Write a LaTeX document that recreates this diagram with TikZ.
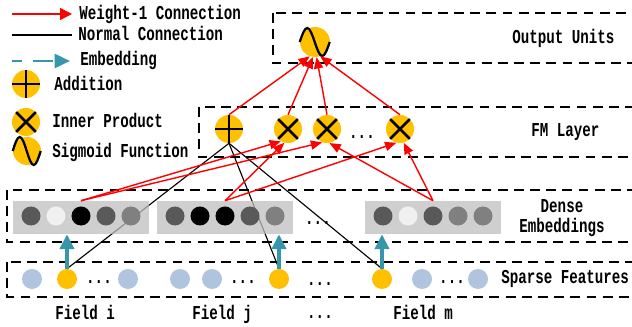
\documentclass[tikz,border=0pt]{standalone}
\usepackage{fontspec}
\setmainfont{Liberation Mono}[FakeStretch=0.72]
\usepackage{tikz}
\usetikzlibrary{arrows.meta}
\definecolor{fmyel}{HTML}{FFC000}
\definecolor{spblue}{HTML}{B0C4DE}
\definecolor{embteal}{HTML}{3796AA}
\definecolor{embgray}{HTML}{BFBFBF}
\definecolor{gdark}{HTML}{595959}
\definecolor{gmid}{HTML}{808080}
\definecolor{glight}{HTML}{F0F0F0}

\begin{document}
\begin{tikzpicture}[x=0.025cm,y=-0.025cm,
	font=\bfseries\fontsize{14}{15}\selectfont,
	lab/.style={inner sep=0pt},
	layer/.style={line width=1pt,dash pattern=on 7pt off 4.5pt},
	unit/.style={circle,fill=fmyel,minimum size=0.7cm,inner sep=0pt},
	addu/.style={unit,path picture={\draw[line width=2pt] (path picture bounding box.north)--(path picture bounding box.south) (path picture bounding box.west)--(path picture bounding box.east);}},
	produ/.style={unit,path picture={\draw[line width=2pt] (path picture bounding box.north west)--(path picture bounding box.south east) (path picture bounding box.north east)--(path picture bounding box.south west);}},
	sigu/.style={unit,minimum size=0.75cm},
	wave/.style={line width=1.6pt},
	feat/.style={circle,minimum size=0.5cm,inner sep=0pt},
	emb/.style={fill=embgray,fill opacity=0.75,minimum width=3.375cm,minimum height=0.825cm,inner sep=0pt},
	ed/.style={circle,minimum size=0.475cm,inner sep=0pt},
	wone/.style={red,line width=1pt,-{Triangle[length=8pt,width=6.5pt]}},
	norm/.style={line width=0.8pt},
	embarrow/.style={embteal,line width=2.5pt,-{Triangle[length=10.5pt,width=10pt]}}
	]
	\useasboundingbox (0,0) rectangle (632,327);
	
	% layers (open to the right)
	\draw[layer] (273,13) rectangle (650,63); % output units
	\draw[layer] (199,107) rectangle (650,157); % fm layer
	\draw[layer] (7,190) rectangle (650,242); % dense embeddings
	\draw[layer] (7,262) rectangle (650,297); % sparse features
	
	% legend
	\coordinate (w0) at (12,14); \coordinate (w1) at (72,14);
	\coordinate (n0) at (12,35); \coordinate (n1) at (72,35);
	\coordinate (e0) at (12,61); \coordinate (e1) at (70,61);
	\draw[wone,-{Triangle[length=8.5pt,width=8.5pt]}] (w0) -- (w1);
	\draw[norm] (n0) -- (n1);
	\draw[embarrow,line width=2pt,dash pattern=on 7pt off 8pt on 14pt off 8pt,-{Triangle[length=11pt,width=10pt]}] (e0) -- (e1);
	\node[addu] (ia) at (26,84) {};
	\node[produ] (ib) at (26,122) {};
	\node[unit] (ic) at (27,151) {};
	\draw[wave] (ic.west) sin ++(7,-14) cos ++(7,14) sin ++(7,14) cos ++(7,-14);
	\node[lab,anchor=base west] (tw) at (79,20) {Weight-1 Connection};
	\node[lab,anchor=base west] (tn) at (78,41) {Normal Connection};
	\node[lab,anchor=base west] (te) at (80,66) {Embedding};
	\node[lab,anchor=base west] (ta) at (54,91) {Addition};
	\node[lab,anchor=base west] (ti) at (52,128) {Inner Product};
	\node[lab,anchor=base west] (ts) at (52,158) {Sigmoid Function};
	
	% layer names
	\node[lab,anchor=base west] (lo) at (512,44) {Output Units};
	\node[lab,anchor=base west] (lf) at (531,137) {FM Layer};
	\node[lab,anchor=base] (ld) at (562,213) {Dense};
	\node[lab,anchor=base] (le) at (562,233) {Embeddings};
	\node[lab,anchor=base west] (ls) at (501,284) {Sparse Features};
	\foreach \n/\x/\t in {fi/55/Field i, fj/192/Field j, fm/393/Field m}{
		\node[lab,anchor=base west] (\n) at (\x,320) {\t};
	}
	
	% sparse features
	\foreach \n/\x/\col in
	{s1/67/fmyel, s2/279/fmyel, s3/382/fmyel, l1/32/spblue, l2/128/spblue,
	 l3/180/spblue, l4/212/spblue, l5/422/spblue, l6/478/spblue}{
		\node[feat,fill=\col] (\n) at (\x,279) {};
	}
	
	% fm layer
	\node[addu] (p) at (229,129) {};
	\foreach \n/\x in {x1/288, x2/327, x3/400}{
		\node[produ] (\n) at (\x,129) {};
	}
	
	% normal connections (under the embeddings)
	\foreach \s in {s1,s2,s3}{
		\draw[norm] (p.south) -- (\s.north);
	}
	
	% dense embeddings
	\foreach \g/\cx/\cols in
	{a/81/{gdark,glight,black,gdark,gmid},
	 b/225/{gdark,black,black,gdark,gmid},
	 c/433/{gdark,glight,gdark,gmid,gmid}}{
		\node[emb] (d\g) at (\cx,217.5) {};
		\foreach \col [count=\k] in \cols {
			\node[ed,fill=\col] (\g\k) at (\cx+25*\k-75,216) {};
		}
	}
	
	% dots
	\foreach \n/\x/\y in
	{q1/99/282, q2/243/282, q3/320/284, q4/452/282,
	 q5/318/223, q6/362/137, q7/320/317}{
		\node[lab] (\n) at (\x,\y) {...};
	}
	
	% embedding
	\foreach \s/\d in {s1/da, s2/db, s3/dc}{
		\draw[embarrow] (\s.north) -- (\s |- \d.south);
	}
	
	% weight-1 connections
	\foreach \a/\b in
	{da/x1.240, db/x1.255, da/x2.250, dc/x2.280, db/x3.255, dc/x3.285}{
		\draw[wone] (\a.north) -- (\b);
	}
	
	% output unit
	\node[sigu] (o) at (315,42) {};
	\draw[wave] (o.west) sin ++(7.5,-14) cos ++(7.5,14) sin ++(7.5,14) cos ++(7.5,-14);
	\foreach \a/\b in {p/250, x1/262, x2/276, x3/290}{
		\draw[wone] (\a.north) -- (o.\b);
	}
\end{tikzpicture}
\end{document}
